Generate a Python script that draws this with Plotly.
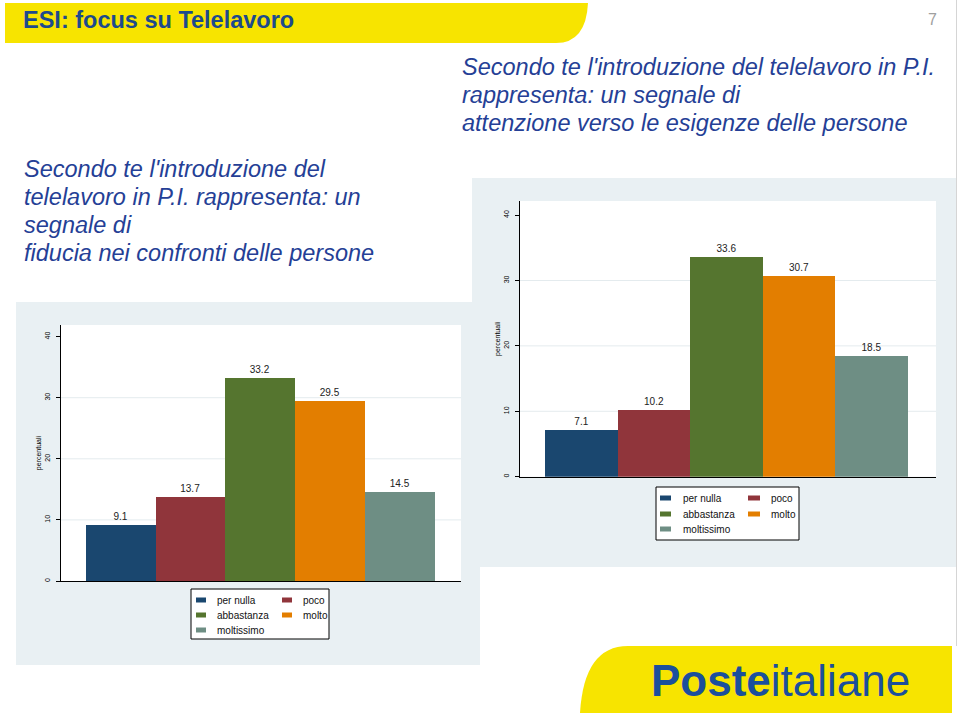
import plotly.graph_objects as go

W, H = 960, 716

categories = ["per nulla", "poco", "abbastanza", "molto", "moltissimo"]
fiducia = [9.1, 13.7, 33.2, 29.5, 14.5]
attenzione = [7.1, 10.2, 33.6, 30.7, 18.5]
y_ticks = [0, 10, 20, 30, 40]
grid_vals = [10, 20, 30]
colors = ["#1a476f", "#90353b", "#55752f", "#e37e00", "#6e8e84"]

header_title = "ESI: focus su Telelavoro"
left_question = ["Secondo te l'introduzione del",
                 "telelavoro in P.I. rappresenta: un",
                 "segnale di",
                 "fiducia nei confronti delle persone"]
right_question = ["Secondo te l'introduzione del telelavoro in P.I.",
                  "rappresenta: un segnale di",
                  "attenzione verso le esigenze delle persone"]

BLUE = "#253f96"
PANEL = "#e9f0f3"
YELLOW = "#f7e400"


def X(px):
    return px / W


def Y(py):
    return 1 - py / H


def P(px, py):
    return f"{X(px):.5f},{Y(py):.5f}"


fig = go.Figure()

fig.add_trace(go.Bar(x=list(range(len(categories))), y=fiducia, width=1,
                     marker=dict(color=colors, line=dict(width=0)),
                     text=[f"{v:.1f}" for v in fiducia], textposition="outside",
                     textfont=dict(size=10, color="#222", family="Arial"),
                     cliponaxis=False, showlegend=False, hoverinfo="skip",
                     xaxis="x", yaxis="y"))
fig.add_trace(go.Bar(x=list(range(len(categories))), y=attenzione, width=1,
                     marker=dict(color=colors, line=dict(width=0)),
                     text=[f"{v:.1f}" for v in attenzione], textposition="outside",
                     textfont=dict(size=10, color="#222", family="Arial"),
                     cliponaxis=False, showlegend=False, hoverinfo="skip",
                     xaxis="x2", yaxis="y2"))

yaxis_common = dict(tickvals=y_ticks, ticks="outside", ticklen=4, tickcolor="#000",
                    tickangle=-90, tickfont=dict(size=7, color="#000", family="Arial"),
                    showline=True, linecolor="#000", linewidth=1, showgrid=False,
                    zeroline=False, ticklabelstandoff=3,
                    title=dict(text="percentuali", font=dict(size=7, color="#000", family="Arial"),
                               standoff=1))
xaxis_common = dict(showticklabels=False, ticks="", showline=True, linecolor="#000",
                    linewidth=1, showgrid=False, zeroline=False)

fig.update_layout(
    width=W, height=H, autosize=False,
    margin=dict(l=0, r=0, t=0, b=0),
    paper_bgcolor="white", plot_bgcolor="white",
    bargap=0,
    xaxis=dict(domain=[X(60.7), X(461)], range=[-0.859, 4.883], **xaxis_common),
    yaxis=dict(domain=[Y(581), Y(325)], range=[0, 41.9], anchor="x", **yaxis_common),
    xaxis2=dict(domain=[X(520), X(936)], range=[-0.844, 4.886], anchor="y2", **xaxis_common),
    yaxis2=dict(domain=[Y(476.7), Y(201)], range=[0, 42.15], anchor="x2", **yaxis_common),
)

shapes = []
# header band
shapes.append(dict(type="path", xref="paper", yref="paper", layer="below",
                   path=f"M {P(5,3)} L {P(588,3)} Q {P(586,43)} {P(556,43)} L {P(5,43)} Z",
                   fillcolor=YELLOW, line=dict(width=0)))
# logo band
shapes.append(dict(type="path", xref="paper", yref="paper", layer="below",
                   path=f"M {P(580,713)} Q {P(584,646)} {P(628,646)} L {P(952,646)} L {P(952,713)} Z",
                   fillcolor=YELLOW, line=dict(width=0)))
# right vertical line
shapes.append(dict(type="line", xref="paper", yref="paper", layer="below",
                   x0=X(956.5), x1=X(956.5), y0=Y(0), y1=Y(646),
                   line=dict(color="#d5d5d5", width=1)))
# chart panels
shapes.append(dict(type="rect", xref="paper", yref="paper", layer="below",
                   x0=X(16), x1=X(480), y0=Y(665), y1=Y(302),
                   fillcolor=PANEL, line=dict(width=0)))
shapes.append(dict(type="rect", xref="paper", yref="paper", layer="below",
                   x0=X(472), x1=X(956), y0=Y(567), y1=Y(178),
                   fillcolor=PANEL, line=dict(width=0)))
# plot areas and grid
for xa, ya in (("x", "y"), ("x2", "y2")):
    shapes.append(dict(type="rect", xref=f"{xa} domain", yref=f"{ya} domain", layer="below",
                       x0=0, x1=1, y0=0, y1=1, fillcolor="white", line=dict(width=0)))
    for g in grid_vals:
        shapes.append(dict(type="line", xref=f"{xa} domain", yref=ya, layer="below",
                           x0=0, x1=1, y0=g, y1=g, line=dict(color="#e4ebee", width=1)))

annotations = []


def add_legend(box, rows, sw_x, txt_x):
    x0, y0, x1, y1 = box
    shapes.append(dict(type="rect", xref="paper", yref="paper",
                       x0=X(x0), x1=X(x1), y0=Y(y1), y1=Y(y0),
                       fillcolor="white", line=dict(color="#000", width=1)))
    for i, (cat, col) in enumerate(zip(categories, colors)):
        r, c = divmod(i, 2)
        cy = rows[r]
        sx0, sx1 = sw_x[c]
        shapes.append(dict(type="rect", xref="paper", yref="paper",
                           x0=X(sx0), x1=X(sx1), y0=Y(cy + 2.5), y1=Y(cy - 2.5),
                           fillcolor=col, line=dict(width=0)))
        annotations.append(dict(xref="paper", yref="paper", x=X(txt_x[c]), y=Y(cy),
                                xanchor="left", yanchor="middle", text=cat, showarrow=False,
                                font=dict(size=10, color="#111", family="Arial")))


add_legend((191, 589, 329, 639), [600, 615, 630], [(196, 206), (282, 292)], [215, 301])
add_legend((656, 487, 799, 540), [498, 514, 529], [(660, 671), (748, 760)], [681, 769])

# header title
annotations.append(dict(xref="paper", yref="paper", x=X(21), y=Y(20), xanchor="left",
                        yanchor="middle", text=f"<b>{header_title}</b>", showarrow=False,
                        font=dict(size=23.5, color="#1d4a8c", family="Arial")))
annotations.append(dict(xref="paper", yref="paper", x=X(932), y=Y(19), xanchor="center",
                        yanchor="middle", text="7", showarrow=False,
                        font=dict(size=16, color="#a0a0a0", family="Arial")))
for i, line in enumerate(left_question):
    annotations.append(dict(xref="paper", yref="paper", x=X(22), y=Y(169 + 28 * i),
                            xanchor="left", yanchor="middle", text=f"<i>{line}</i>",
                            showarrow=False, font=dict(size=23.5, color=BLUE, family="Arial")))
for i, line in enumerate(right_question):
    annotations.append(dict(xref="paper", yref="paper", x=X(460), y=Y(67 + 28 * i),
                            xanchor="left", yanchor="middle", text=f"<i>{line}</i>",
                            showarrow=False, font=dict(size=23.5, color=BLUE, family="Arial")))
# logo
annotations.append(dict(xref="paper", yref="paper", x=X(780), y=Y(680), xanchor="center",
                        yanchor="middle",
                        text="<b>Poste</b>italiane", showarrow=False,
                        font=dict(size=44, color="#1b4f9c", family="Arial")))

fig.update_layout(shapes=shapes, annotations=annotations)
fig.write_html("out.html")
